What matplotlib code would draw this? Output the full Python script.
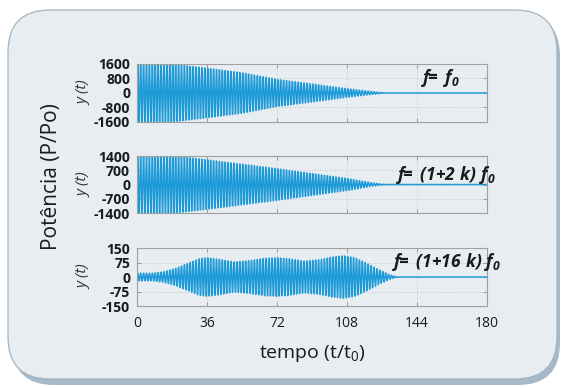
import numpy as np
import matplotlib
matplotlib.use("Agg")
import matplotlib.pyplot as plt
from matplotlib.patches import FancyBboxPatch

plt.rcParams['font.family'] = ['Open Sans', 'DejaVu Sans']
plt.rcParams['mathtext.fontset'] = 'custom'
plt.rcParams['mathtext.rm'] = 'Open Sans'
plt.rcParams['mathtext.it'] = 'Open Sans:italic'
plt.rcParams['mathtext.bf'] = 'Open Sans:bold'
plt.rcParams['mathtext.bfit'] = 'Open Sans:italic:bold'

# ---------------- data ----------------
x_ticks = [0, 36, 72, 108, 144, 180]
carrier_period = 1.5  # t/t0 per oscillation

# envelope of panel 1 : f = f0
env1_t = [0, 18, 36, 54, 72, 90, 108, 120, 128]
env1_a = [1600, 1600, 1370, 1120, 750, 500, 240, 90, 0]
y1_ticks = [1600, 800, 0, -800, -1600]

# envelope of panel 2 : f = (1+2k) f0
env2_t = [0, 20, 36, 54, 72, 90, 108, 120, 128]
env2_a = [1400, 1400, 1220, 1000, 780, 540, 300, 100, 0]
y2_ticks = [1400, 700, 0, -700, -1400]

# envelope of panel 3 : f = (1+16k) f0
env3_t = [0, 8, 14, 20, 26, 32, 36, 42, 50, 58, 66, 72, 78, 86, 94, 100, 106, 112, 118, 124, 130, 134]
env3_a = [20, 20, 28, 45, 70, 95, 100, 92, 78, 85, 97, 100, 95, 82, 90, 103, 110, 100, 72, 40, 12, 0]
y3_ticks = [150, 75, 0, -75, -150]

labels = ['$\\mathbfit{f\\!\\!{=}\\ f_0}$',
          '$\\mathbfit{f\\!\\!{=}\\ (1{+}2\\ k)\\ f_0}$',
          '$\\mathbfit{f\\!\\!{=}\\ (1{+}16\\ k)\\ f_0}$']
label_pos = [(146, 830), (133, 470), (131, 80)]

# ---------------- figure ----------------
W, H = 562, 388
fig = plt.figure(figsize=(W / 100, H / 100), dpi=100)
fig.patch.set_facecolor('white')

bg = fig.add_axes([0, 0, 1, 1], zorder=-10)
bg.set_xlim(0, W)
bg.set_ylim(H, 0)
bg.axis('off')
shadow = FancyBboxPatch((12, 14), 548, 371, boxstyle="round,pad=0,rounding_size=42",
                        facecolor='#a7b9c8', edgecolor='none')
bg.add_patch(shadow)
box = FancyBboxPatch((8, 10), 549, 369, boxstyle="round,pad=0,rounding_size=42",
                     facecolor='#e7edf1', edgecolor='#a4b4c0', linewidth=0.9)
bg.add_patch(box)

line_color = '#1c9ad8'
t = np.arange(0, 180.0001, 0.03)
carrier = np.sin(2 * np.pi * t / carrier_period)

panels = [
    (env1_t, env1_a, y1_ticks, [0.2438, 0.6856, 0.6228, 0.1495]),
    (env2_t, env2_a, y2_ticks, [0.2438, 0.4510, 0.6228, 0.1469]),
    (env3_t, env3_a, y3_ticks, [0.2438, 0.2113, 0.6228, 0.1495]),
]

for i, (et, ea, yt, rect) in enumerate(panels):
    ax = fig.add_axes(rect)
    ax.set_facecolor('none')
    env = np.interp(t, et, ea, right=0)
    ax.plot(t, env * carrier, color=line_color, lw=1.05)
    ax.set_xlim(0, 180)
    ax.set_ylim(yt[-1], yt[0])
    ax.set_yticks(yt)
    ax.set_yticklabels([str(v) for v in yt], fontweight='bold', fontsize=10, color='#1a1a1a')
    ax.set_xticks(x_ticks)
    if i == 2:
        ax.set_xticklabels([str(v) for v in x_ticks], fontsize=10, color='#1a1a1a')
    else:
        ax.set_xticklabels([])
    ax.tick_params(direction='in', length=3, width=0.6, color='#8c8c8c',
                   top=True, right=True)
    ax.tick_params(axis='y', pad=5)
    ax.tick_params(axis='x', pad=7)
    for v in x_ticks[1:-1]:
        ax.axvline(v, color='#bfbfbf', lw=0.6, ls=(0, (1, 2)), zorder=0)
    for v in yt[1:-1]:
        ax.axhline(v, color='#bfbfbf', lw=0.6, ls=(0, (1, 2)), zorder=0)
    for s in ax.spines.values():
        s.set_color('#a0a0a0')
        s.set_linewidth(0.8)
    ax.set_ylabel('y (t)', fontstyle='italic', fontsize=11, color='#333333')
    ax.yaxis.set_label_coords(-0.13, 0.5)
    lx, ly = label_pos[i]
    ax.text(lx, ly, labels[i], fontsize=12.5, color='#1a1a1a', ha='left', va='center',
            clip_on=False)
    if i == 2:
        ax.set_xlabel('tempo (t/t$_0$)', fontsize=14, color='#1a1a1a', labelpad=9)

fig.text(52 / W, 1 - 177 / H, 'Potência (P/Po)', rotation=90, fontsize=15,
         color='#1a1a1a', ha='center', va='center')

fig.savefig('out.png', dpi=100, facecolor='white')
